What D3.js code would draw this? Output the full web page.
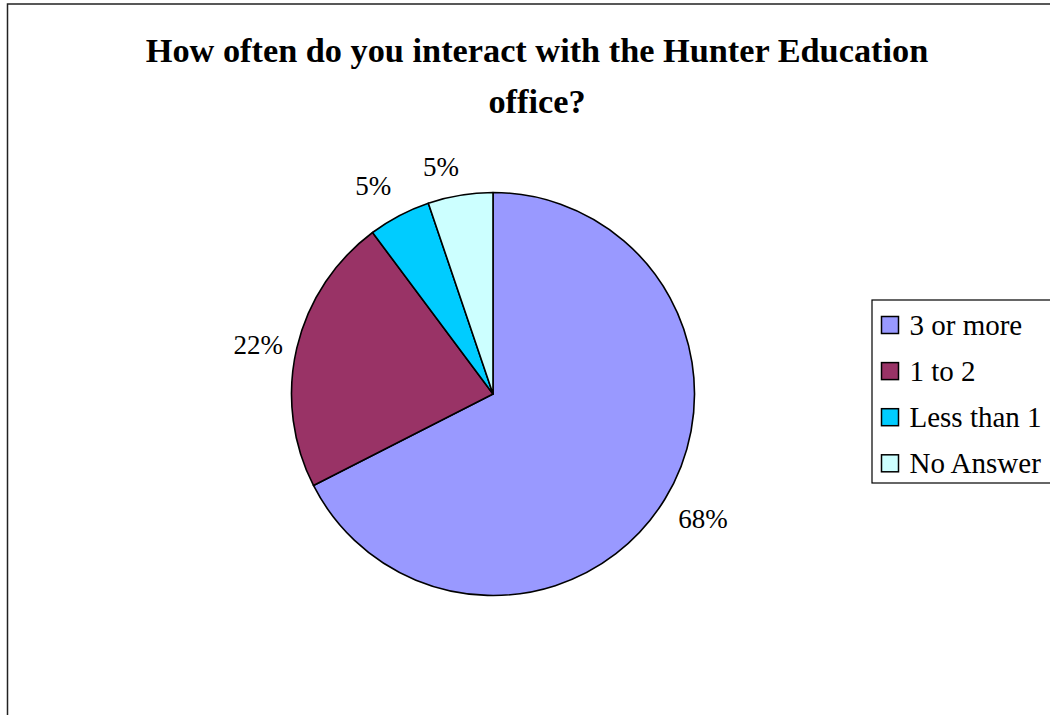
<!DOCTYPE html>
<html>
<head>
<meta charset="utf-8">
<script src="https://cdn.jsdelivr.net/npm/d3@7"></script>
<style>
  html, body { margin: 0; padding: 0; background: #fff; }
  svg { display: block; }
  text { font-family: "Liberation Serif", "Times New Roman", Times, serif; fill: #000; }
</style>
</head>
<body>
<svg id="chart" width="1050" height="715"></svg>
<script>
const titleLines = ["How often do you interact with the Hunter Education", "office?"];
const categories = ["3 or more", "1 to 2", "Less than 1", "No Answer"];
const values = [67.5, 22.3, 5.0, 5.2];
const colors = ["#9999FF", "#993366", "#00CCFF", "#CCFFFF"];

const FONT = "'Liberation Serif', 'Times New Roman', Times, serif";
const svg = d3.select("#chart");

// outer frame
svg.append("rect")
  .attr("x", 7.5).attr("y", 4)
  .attr("width", 1100).attr("height", 800)
  .attr("fill", "#fff").attr("stroke", "#222").attr("stroke-width", 1.5);

// title
const title = svg.append("text")
  .attr("text-anchor", "middle")
  .attr("font-family", FONT)
  .attr("font-size", 34.3)
  .attr("font-weight", "bold");
titleLines.forEach((t, i) => {
  title.append("tspan").attr("x", 537).attr("y", 62 + i * 51).text(t);
});

// pie
const cx = 493, cy = 394, r = 201.5;
const pie = d3.pie().value(d => d).sort(null);
const arcs = pie(values);
const arc = d3.arc().innerRadius(0).outerRadius(r);
const total = d3.sum(values);

const g = svg.append("g").attr("transform", `translate(${cx},${cy})`);
g.selectAll("path.slice")
  .data(arcs)
  .join("path")
  .attr("class", "slice")
  .attr("d", arc)
  .attr("fill", (d, i) => colors[i])
  .attr("stroke", "#000")
  .attr("stroke-width", 1.6)
  .attr("stroke-linejoin", "round");

// label placement (style): radius and small nudges
const labelR = [244, 240, 240, 234];
const labelNudge = [[2, -2], [-1, 6], [-8, 4], [-14, 4]];
g.selectAll("text.lbl")
  .data(arcs)
  .join("text")
  .attr("class", "lbl")
  .attr("text-anchor", "middle")
  .attr("dominant-baseline", "central")
  .attr("font-family", FONT)
  .attr("font-size", 27)
  .attr("transform", (d, i) => {
    const a = (d.startAngle + d.endAngle) / 2;
    const x = Math.sin(a) * labelR[i] + labelNudge[i][0];
    const y = -Math.cos(a) * labelR[i] + labelNudge[i][1];
    return `translate(${x},${y})`;
  })
  .text(d => Math.round(d.data / total * 100) + "%");

// legend
const lg = svg.append("g");
lg.append("rect")
  .attr("x", 872).attr("y", 300)
  .attr("width", 200).attr("height", 183)
  .attr("fill", "#fff").attr("stroke", "#000").attr("stroke-width", 1.2);

const ly = d3.scalePoint().domain(categories).range([325, 463.3]);
const items = lg.selectAll("g.item").data(categories).join("g").attr("class", "item")
  .attr("transform", d => `translate(0,${ly(d)})`);
items.append("rect")
  .attr("x", 881.5).attr("y", -8.5)
  .attr("width", 17).attr("height", 17)
  .attr("fill", (d, i) => colors[i])
  .attr("stroke", "#000").attr("stroke-width", 1.5);
items.append("text")
  .attr("x", 909.5).attr("y", 0)
  .attr("dominant-baseline", "central")
  .attr("font-family", FONT)
  .attr("font-size", 29)
  .text(d => d);
</script>
</body>
</html>
